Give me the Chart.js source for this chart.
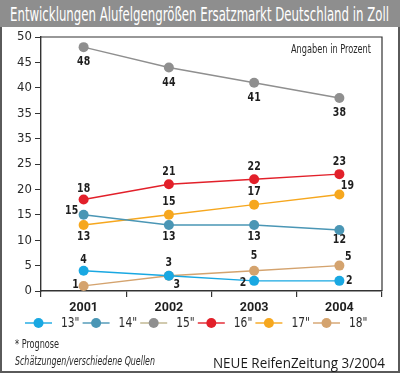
<!DOCTYPE html>
<html>
<head>
<meta charset="utf-8">
<script src="https://cdn.jsdelivr.net/npm/chart.js@4"></script>
<style>
  html, body { margin: 0; padding: 0; background: #fff; }
  #wrap { position: relative; width: 400px; height: 373px; overflow: hidden; background: #fff; }
  #frame { position: absolute; left: 0; top: 0; width: 396px; height: 369px; border: 2px solid #5a5a5a; box-sizing: content-box; }
  #title { position: absolute; left: 0; top: 0; width: 400px; height: 27px; background: #8e8e8e; }
  canvas { position: absolute; left: 0; top: 0; }
  .txt { position: absolute; white-space: nowrap; color: #2a2a2a; transform-origin: 0 0; }
  #ttl { left: 10px; top: 2px; color: #fff; font: 20px 'DejaVu Sans Condensed', 'Liberation Sans', sans-serif; line-height: 24px; }
  #angaben { left: 291px; top: 41px; font: 13px 'DejaVu Sans Condensed', sans-serif; line-height: 16px; }
  #prog { left: 15px; top: 336px; font: 13px 'DejaVu Sans Condensed', sans-serif; line-height: 16px; }
  #quel { left: 15px; top: 353px; font: italic 13px 'DejaVu Sans Condensed', sans-serif; line-height: 16px; }
  #neue { left: 213px; top: 353px; font: 15px 'Open Sans', 'Liberation Sans', sans-serif; line-height: 18px; color: #1a1a1a; }
</style>
</head>
<body>
<div id="wrap">
  <canvas id="c" width="400" height="373"></canvas>
  <div id="frame"></div>
  <div id="title"></div>
  <div class="txt" id="ttl" data-w="379">Entwicklungen Alufelgengrößen Ersatzmarkt Deutschland in Zoll</div>
  <div class="txt" id="angaben" data-w="80">Angaben in Prozent</div>
  <div class="txt" id="prog" data-w="44">* Prognose</div>
  <div class="txt" id="quel" data-w="140">Schätzungen/verschiedene Quellen</div>
  <div class="txt" id="neue" data-w="172">NEUE ReifenZeitung 3/2004</div>
</div>
<script>
// ---- data ----
const years = ['2001', '2002', '2003', '2004'];
const seriesNames = ['13"', '14"', '15"', '16"', '17"', '18"'];
const v13 = [4, 3, 2, 2];
const v14 = [15, 13, 13, 12];
const v15 = [48, 44, 41, 38];
const v16 = [18, 21, 22, 23];
const v17 = [13, 15, 17, 19];
const v18 = [1, 3, 4, 5];
// printed value labels (as shown in the source graphic)
const lbl13 = ['4', '3', '2', '2'];
const lbl14 = ['15', '13', '13', '12'];
const lbl15 = ['48', '44', '41', '38'];
const lbl16 = ['18', '21', '22', '23'];
const lbl17 = ['13', '15', '17', '19'];
const lbl18 = ['1', '3', '5', '5'];
// y-axis tick labels as printed (bottom to top)
const yTickLabels = ['0', '5', '10', '15', '20', '25', '35', '35', '40', '45', '50'];

// ---- styling ----
const colors = ['#19a8e2', '#4a96b5', '#8f8f8f', '#e2202a', '#f6a71e', '#d4a36e'];
const legendLineColors = ['#19a8e2', '#4a96b5', '#bdb48c', '#e2202a', '#f6a71e', '#d4a36e'];
const labelOffsets = [
  [[0, -11], [0, -13], [-11, 2], [10, 0]],
  [[-12, -4], [0, 12], [0, 12], [0, 10]],
  [[0, 15], [0, 15], [0, 15], [0, 15]],
  [[0, -11], [0, -12], [0, -12], [0, -12]],
  [[0, 12], [0, -13], [0, -13], [8, -9]],
  [[-8, -1], [8, 9], [0, -15], [9, -9]]
];
const NARROW = "'DejaVu Sans Condensed', 'Liberation Sans', sans-serif";

// fit HTML texts to their measured widths in the reference
document.querySelectorAll('.txt').forEach(el => {
  const w = el.getBoundingClientRect().width;
  const target = parseFloat(el.dataset.w);
  if (w > 0) el.style.transform = 'scaleX(' + (target / w) + ')';
});

const values = [v13, v14, v15, v16, v17, v18];
const labels = [lbl13, lbl14, lbl15, lbl16, lbl17, lbl18];

const datasets = seriesNames.map((n, i) => ({
  label: n,
  data: values[i],
  borderColor: colors[i],
  backgroundColor: colors[i],
  pointBackgroundColor: colors[i],
  pointBorderWidth: 0,
  pointRadius: 5,
  borderWidth: 1.4,
  tension: 0
}));

const plotFrame = {
  id: 'plotFrame',
  afterDraw(chart) {
    const { ctx, chartArea: a } = chart;
    ctx.save();
    ctx.strokeStyle = '#333';
    ctx.lineWidth = 1.2;
    ctx.beginPath();
    ctx.moveTo(a.left, a.top); ctx.lineTo(a.right, a.top); ctx.lineTo(a.right, a.bottom);
    ctx.stroke();
    ctx.restore();
  }
};

function condensedText(ctx, text, x, y, sx) {
  ctx.save();
  ctx.translate(x, y);
  ctx.scale(sx, 1);
  ctx.fillText(text, 0, 0);
  ctx.restore();
}

const valueLabels = {
  id: 'valueLabels',
  afterDatasetsDraw(chart) {
    const ctx = chart.ctx;
    ctx.save();
    ctx.font = 'bold 12px ' + NARROW;
    ctx.fillStyle = '#1e1e1e';
    ctx.textAlign = 'center';
    ctx.textBaseline = 'middle';
    chart.data.datasets.forEach((ds, i) => {
      const meta = chart.getDatasetMeta(i);
      meta.data.forEach((pt, j) => {
        const o = labelOffsets[i][j];
        condensedText(ctx, labels[i][j], pt.x + o[0], pt.y + o[1], 0.87);
      });
    });
    ctx.restore();
  }
};

const lineLegend = {
  id: 'lineLegend',
  afterDraw(chart) {
    const ctx = chart.ctx;
    ctx.save();
    const y = 323, start = 25, step = 57.6;
    chart.data.datasets.forEach((ds, i) => {
      const x0 = start + i * step;
      ctx.strokeStyle = legendLineColors[i];
      ctx.lineWidth = 1.4;
      ctx.beginPath(); ctx.moveTo(x0, y); ctx.lineTo(x0 + 27, y); ctx.stroke();
      ctx.fillStyle = ds.backgroundColor;
      ctx.beginPath(); ctx.arc(x0 + 13.5, y, 5, 0, Math.PI * 2); ctx.fill();
      ctx.fillStyle = '#2a2a2a';
      ctx.font = '14px ' + NARROW;
      ctx.textAlign = 'left';
      ctx.textBaseline = 'middle';
      condensedText(ctx, ds.label, x0 + 36, y, 0.85);
    });
    ctx.restore();
  }
};

new Chart(document.getElementById('c'), {
  type: 'line',
  data: { labels: years, datasets },
  options: {
    responsive: false,
    animation: false,
    devicePixelRatio: 1,
    layout: { padding: { top: 37, right: 18, bottom: 52, left: 0 } },
    plugins: { legend: { display: false }, tooltip: { enabled: false } },
    scales: {
      x: {
        offset: true,
        grid: { offset: true, drawOnChartArea: false, tickLength: 6, color: '#333', lineWidth: 1.2 },
        border: { display: true, color: '#333', width: 1.4 },
        ticks: { color: '#1e1e1e', font: { family: "Roboto, 'DejaVu Sans Condensed', sans-serif", size: 12.5, weight: 'bold' }, padding: 3 },
        afterFit: s => { s.height = 30; }
      },
      y: {
        min: 0, max: 50,
        grid: { drawOnChartArea: false, tickLength: 6, color: '#333', lineWidth: 1 },
        border: { display: true, color: '#333', width: 1.4 },
        ticks: {
          stepSize: 5, color: '#2a2a2a', padding: 3,
          font: { family: NARROW, size: 13 },
          callback: (v, idx) => yTickLabels[idx]
        },
        afterFit: s => { s.width = 41; }
      }
    }
  },
  plugins: [plotFrame, valueLabels, lineLegend]
});
</script>
</body>
</html>
